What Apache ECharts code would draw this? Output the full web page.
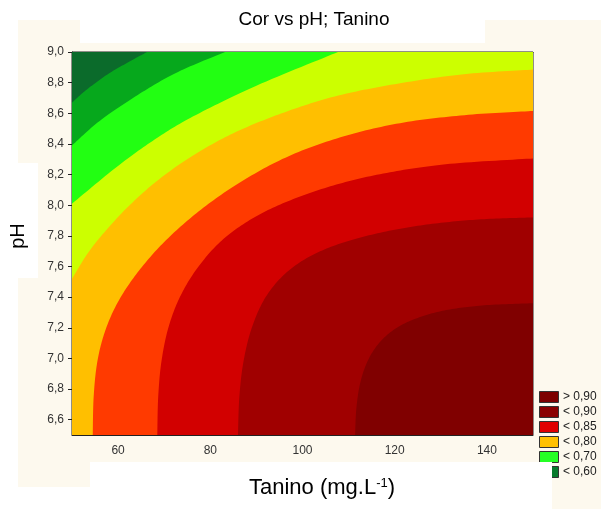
<!DOCTYPE html>
<html><head><meta charset="utf-8">
<script src="https://cdn.jsdelivr.net/npm/echarts@6/dist/echarts.min.js"></script>
<style>html,body{margin:0;padding:0;background:#fff}#c{width:601px;height:509px}</style>
</head><body><div id="c"></div>
<script>
// ---- data ----
const xRange = [50, 150];
const yRange = [6.5, 9.0];
const xTicks = [60, 80, 100, 120, 140];
const xTopTicks = [66.67, 83.33, 100, 116.67, 133.33];
const yTicks = [6.6, 6.8, 7.0, 7.2, 7.4, 7.6, 7.8, 8.0, 8.2, 8.4, 8.6, 8.8, 9.0];
// contour boundaries [Tanino, pH], listed from the left/bottom edge to the top/right edge
const c1 = [[50, 8.67], [53, 8.75], [57.5, 8.85], [62, 8.93], [66.3, 9.0]];
const c2 = [[50, 8.39], [56, 8.55], [64.8, 8.73], [73, 8.87], [83.2, 9.0]];
const c3 = [[50, 8.01], [59.7, 8.25], [68, 8.43], [76.3, 8.58], [90, 8.78], [107.7, 9.0]];
const c4 = [[50, 7.52], [53.5, 7.69], [57.5, 7.84], [62.5, 8.0], [68.5, 8.16], [76, 8.32], [85, 8.47], [95.5, 8.6], [107, 8.71], [120, 8.79], [135, 8.855], [150, 8.885]];
const c5 = [[54.5, 6.5], [54.7, 6.75], [55.5, 6.98], [57.2, 7.18], [60, 7.37], [64.2, 7.56], [70, 7.76], [77.5, 7.96], [86.5, 8.15], [97, 8.32], [109, 8.45], [122, 8.54], [136, 8.59], [150, 8.615]];
const c6 = [[68.5, 6.5], [68.7, 6.75], [69.4, 6.98], [70.9, 7.2], [73.4, 7.4], [77.2, 7.59], [82.5, 7.77], [89.5, 7.92], [98, 8.04], [108, 8.14], [119, 8.215], [132, 8.27], [150, 8.305]];
const c7 = [[86, 6.5], [86.3, 6.75], [87.2, 6.98], [89, 7.2], [92, 7.4], [96.5, 7.56], [102.5, 7.68], [110.3, 7.77], [120, 7.84], [130, 7.885], [140, 7.91], [150, 7.92]];
const c8 = [[111.4, 6.5], [111.7, 6.68], [112.6, 6.85], [114.4, 7.0], [117.2, 7.12], [121, 7.21], [126, 7.275], [132, 7.32], [140, 7.348], [150, 7.36]];
const contours = [null, c1, c2, c3, c4, c5, c6, c7, c8];
const legendLabels = ['> 0,90', '< 0,90', '< 0,85', '< 0,80', '< 0,70', '< 0,60'];

// ---- styles ----
const bandColors = ['#0b6b2b', '#06a81c', '#22ff12', '#ccff00', '#ffbf00', '#ff3a00', '#d20000', '#a00000', '#800000'];
const legendColors = ['#7d0000', '#8a0000', '#e00000', '#ffc000', '#25ff25', '#077a2c'];
const FONT = '"Liberation Sans", Arial, sans-serif';
const BEIGE = '#fdf9ee';

function catmull(pts, steps) {
  const out = [];
  const n = pts.length;
  for (let i = 0; i < n - 1; i++) {
    const p0 = pts[Math.max(i - 1, 0)], p1 = pts[i], p2 = pts[i + 1], p3 = pts[Math.min(i + 2, n - 1)];
    for (let s = 0; s < steps; s++) {
      const t = s / steps, t2 = t * t, t3 = t2 * t;
      const f = (a, b, c, d) => 0.5 * ((2 * b) + (-a + c) * t + (2 * a - 5 * b + 4 * c - d) * t2 + (-a + 3 * b - 3 * c + d) * t3);
      out.push([f(p0[0], p1[0], p2[0], p3[0]), f(p0[1], p1[1], p2[1], p3[1])]);
    }
  }
  out.push(pts[n - 1]);
  return out;
}

function renderBand(params, api) {
  const k = api.value(0);
  const [x0, x1] = xRange, [y0, y1] = yRange;
  let pts;
  if (k === 0) {
    pts = [[x0, y0], [x0, y1], [x1, y1], [x1, y0]].map(p => api.coord(p));
  } else {
    const c = contours[k];
    pts = catmull(c.map(p => api.coord(p)), 16);
    const last = c[c.length - 1], first = c[0];
    if (last[1] >= y1) pts.push(api.coord([x1, y1]));
    pts.push(api.coord([x1, y0]));
    if (first[0] <= x0) pts.push(api.coord([x0, y0]));
  }
  return { type: 'polygon', shape: { points: pts }, style: { fill: bandColors[k] } };
}

const chart = echarts.init(document.getElementById('c'), null, { renderer: 'canvas' });

const graphics = [
  { type: 'rect', z: -10, shape: { x: 18, y: 20, width: 583, height: 489 }, style: { fill: BEIGE } },
  { type: 'rect', z: -9, shape: { x: 80, y: 0, width: 405, height: 43 }, style: { fill: '#fff' } },
  { type: 'rect', z: -9, shape: { x: 0, y: 163, width: 38, height: 115 }, style: { fill: '#fff' } },
  { type: 'rect', z: -9, shape: { x: 0, y: 487, width: 90, height: 22 }, style: { fill: '#fff' } },
  { type: 'text', z: 10, x: 18, y: 236, rotation: Math.PI / 2,
    style: { text: 'pH', font: '20px ' + FONT, fill: '#000', align: 'center', verticalAlign: 'middle' } }
];
legendLabels.forEach((lab, i) => {
  const yc = 397 + i * 15;
  graphics.push({ type: 'rect', z: 10, shape: { x: 539.5, y: yc - 5.5, width: 19, height: 11 },
    style: { fill: legendColors[i], stroke: '#333', lineWidth: 1 } });
  graphics.push({ type: 'text', z: 10, x: 563, y: yc,
    style: { text: lab, font: '12px ' + FONT, fill: '#222', verticalAlign: 'middle' } });
});
graphics.push({ type: 'rect', z: 20, shape: { x: 90, y: 462, width: 462, height: 47 }, style: { fill: '#fff' } });
graphics.push({ type: 'text', z: 30, x: 322, y: 488,
  style: { text: '{a|Tanino (mg.L}{s|-1}{a|)}', align: 'center', verticalAlign: 'middle',
    rich: { a: { font: '22px ' + FONT, fill: '#000' }, s: { font: '13px ' + FONT, fill: '#000', verticalAlign: 'top', padding: [0, 0, 10, 0] } } } });

chart.setOption({
  animation: false,
  backgroundColor: '#fff',
  title: {
    text: 'Cor vs pH; Tanino', left: 314, textAlign: 'center', top: 10, padding: 0,
    textStyle: { fontFamily: FONT, fontSize: 19, fontWeight: 'normal', color: '#000' }
  },
  grid: { left: 72, top: 52, right: 68, bottom: 74, show: true, borderColor: '#222', borderWidth: 1, backgroundColor: 'transparent' },
  xAxis: [{
    type: 'value', min: xRange[0], max: xRange[1],
    axisLine: { show: true, lineStyle: { color: '#222' } },
    axisTick: { show: true, inside: true, length: 5, customValues: xTicks, lineStyle: { color: '#222' } },
    axisLabel: { customValues: xTicks, color: '#333', fontSize: 12, fontFamily: FONT, margin: 10 },
    splitLine: { show: false }
  }, {
    type: 'value', position: 'top', min: xRange[0], max: xRange[1],
    axisLine: { show: true, lineStyle: { color: '#222' } },
    axisTick: { show: true, inside: true, length: 5, customValues: xTopTicks, lineStyle: { color: '#222' } },
    axisLabel: { show: false },
    splitLine: { show: false }
  }],
  yAxis: {
    type: 'value', min: yRange[0], max: yRange[1],
    axisLine: { show: true, lineStyle: { color: '#222' } },
    axisTick: { show: true, inside: false, length: 4, customValues: yTicks, lineStyle: { color: '#222' } },
    axisLabel: { customValues: yTicks, color: '#333', fontSize: 12, fontFamily: FONT, margin: 8,
      formatter: v => v.toFixed(1).replace('.', ',') },
    splitLine: { show: false }
  },
  graphic: { elements: graphics },
  series: [{
    type: 'custom', clip: true, renderItem: renderBand,
    data: contours.map((c, i) => [i]),
    z: 2
  }]
});
</script></body></html>
